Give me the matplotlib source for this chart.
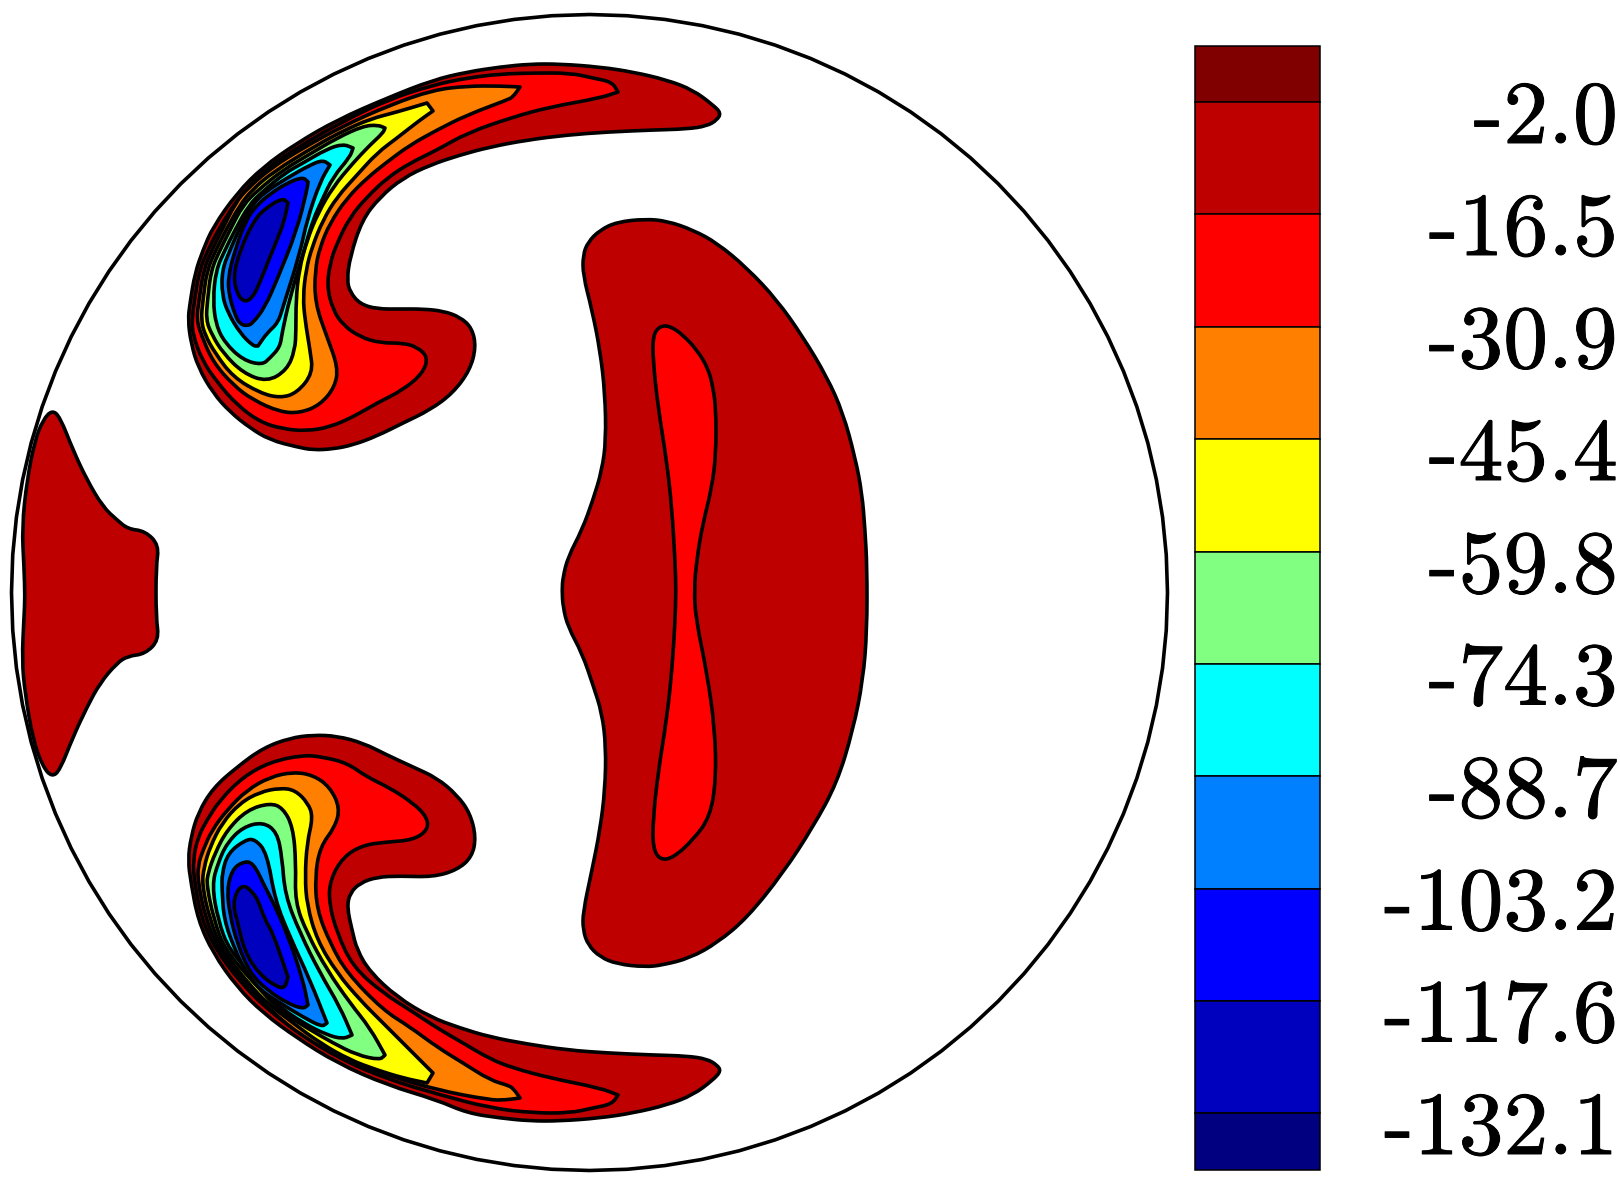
import matplotlib
matplotlib.use("Agg")
import matplotlib.pyplot as plt
import matplotlib.patheffects as pe
from matplotlib.patches import PathPatch, RegularPolygon
from matplotlib.path import Path

level_labels = ["-2.0","-16.5","-30.9","-45.4","-59.8","-74.3","-88.7","-103.2","-117.6","-132.1"]
band_colors = ["#800000","#BF0000","#FF0000","#FF8000","#FFFF00","#80FF80","#00FFFF","#0080FF","#0000FF","#0000BF","#000080"]
band_edges = [45.5,102,214,326.5,439,551.5,663.5,776,888.5,1000.5,1113,1170]
region_colors = ["#BF0000","#FF0000","#FF8000","#FFFF00","#80FF80","#00FFFF","#0080FF","#0000FF","#0000BF"]

top_1 = [(721,113),(717,120),(707,126),(687,129),(653,130),(607,132),(567,135),(527,140),(490,147),(460,155),(430,165),(403,178),(380,197),(362,220),(350,257),(347,280),(350,292),(360,304),(377,309),(400,309),(423,309),(443,311),(460,317),(472,328),(476,347),(470,370),(453,393),(430,410),(403,423),(377,436),(353,445),(333,449),(313,450),(297,447),(270,440),(250,428),(230,412),(213,393),(198,367),(191,343),(188,320),(190,303),(195,273),(203,250),(213,227),(237,193),(263,167),(297,143),(337,120),(387,98),(433,80),(467,72),(500,67),(530,64),(560,64),(600,67),(633,72),(667,80),(693,90),(713,105)]
top_2 = [(618,92),(618,92),(600,98),(550,107),(513,117),(467,133),(437,150),(410,163),(387,178),(367,197),(350,217),(337,243),(330,263),(327,287),(333,310),(343,325),(360,337),(380,343),(403,343),(417,347),(428,357),(423,373),(403,390),(377,403),(353,417),(330,427),(307,431),(283,429),(260,422),(237,405),(217,382),(202,360),(193,335),(192,320),(194.5,300),(199.5,270),(208,250),(218,230),(241,194),(267,168),(300,146),(340,123),(387,100),(433,85),(467,78),(500,74),(533,73),(570,73),(593,78),(612,82)]
top_3 = [(520,87),(520,87),(513,97),(507,100),(467,115),(437,130),(410,145),(387,162),(367,178),(347,198),(330,223),(320,247),(315,270),(315,303),(327,337),(338,367),(335,387),(320,405),(300,413),(280,412),(253,400),(233,385),(213,362),(202,337),(196.5,320),(199,300),(203.5,270),(212,250),(222,230),(236,202),(248,188),(271,168),(303,148),(343,126),(390,105),(433,90),(467,86),(500,86)]
top_4 = [(433,111),(433,111),(420,120),(397,138),(377,153),(357,175),(337,197),(323,220),(312,247),(306,270),(303,297),(305,320),(310,350),(313,373),(297,393),(280,398),(260,393),(233,377),(215,353),(205,335),(201,320),(203,300),(207,270),(216,250),(226,230),(240,205),(252,190),(273,172),(317,145),(343,131),(370,119),(397,112),(427,103),(427,103)]
top_5 = [(385,128),(385,128),(383,133),(370,145),(353,163),(333,187),(318,213),(307,240),(299,270),(296,300),(296,330),(295,350),(287,370),(267,382),(243,373),(223,353),(212,335),(206,320),(207.5,300),(211,270),(220,250),(230,230),(243,205),(258,190),(283,170),(310,154),(337,138),(363,126),(378,125)]
top_6 = [(353,148),(353,148),(350,157),(333,177),(322,200),(313,220),(305,247),(290,297),(282,333),(280,347),(270,358),(262,365),(243,360),(225,343),(216,325),(213,300),(216,270),(225,250),(235,230),(249,205),(262,192),(285,173),(303,163),(327,149),(343,144)]
top_7 = [(330,165),(330,165),(320,182),(307,220),(300,253),(283,307),(278,323),(267,333),(258,346),(258,346),(253,346),(240,333),(228,313),(222,295),(222,270),(230,250),(241,225),(252,205),(265,192),(287,178),(310,165),(323,160)]
top_8 = [(308,182),(308,182),(307,190),(297,230),(277,280),(265,307),(253,323),(247,326),(240,324),(235,315),(229,295),(228,277),(235,250),(246,220),(257,205),(270,194),(287,183),(303,177)]
top_9 = [(288,203),(288,203),(284,222),(277,240),(268,262),(258,287),(252,298),(245,302),(238,296),(233,277),(240,250),(254,220),(267,207),(283,198)]

bot_1 = [(721,1071),(717,1065),(707,1059),(687,1056),(653,1055),(607,1053),(567,1050),(527,1044),(490,1037),(460,1028),(430,1017),(397,997),(370,972),(357,950),(352,930),(347,907),(350,893),(360,883),(377,877),(400,876),(433,877),(457,870),(472,857),(476,837),(470,813),(457,795),(437,778),(413,767),(387,755),(363,743),(337,736),(313,735),(290,738),(263,748),(237,767),(213,788),(198,813),(191,837),(188,860),(191,883),(198,920),(213,953),(237,987),(263,1013),(297,1038),(337,1063),(387,1085),(437,1100),(467,1113),(500,1118),(530,1121),(560,1121),(600,1118),(633,1113),(667,1105),(693,1095),(713,1080)]
bot_2 = [(618,1095),(618,1095),(600,1088),(550,1078),(513,1068),(490,1059),(463,1043),(437,1028),(410,1010),(383,993),(353,967),(337,933),(329,903),(330,880),(343,857),(363,845),(387,842),(413,840),(428,830),(427,817),(413,803),(390,788),(367,777),(347,763),(323,757),(303,755),(270,762),(243,777),(220,800),(207,820),(198,837),(193,860),(194.5,883),(202,920),(216,950),(241,983),(267,1009),(300,1034),(340,1059),(387,1079),(437,1094),(490,1108),(533,1113),(570,1113),(593,1108),(612,1104)]
bot_3 = [(520,1098),(520,1098),(513,1088),(507,1085),(490,1080),(463,1063),(437,1047),(410,1027),(383,1010),(347,973),(330,943),(317,910),(315,877),(320,847),(335,827),(340,808),(330,787),(313,775),(293,772),(270,777),(247,790),(227,810),(212,830),(203,850),(198,865),(198,883),(206,920),(219,950),(245,984),(271,1011),(303,1037),(343,1059),(387,1075),(437,1090),(490,1100),(505,1100)]
bot_4 = [(433,1073),(433,1073),(410,1050),(383,1023),(360,1000),(337,973),(317,940),(307,905),(305,877),(307,843),(313,817),(308,803),(295,790),(280,788),(260,792),(240,803),(222,823),(210,847),(204,867),(202,885),(210,920),(222,950),(249,984),(267,1003),(293,1023),(320,1043),(350,1060),(377,1070),(403,1078),(427,1083),(427,1083)]
bot_5 = [(385,1055),(385,1055),(370,1028),(350,1003),(327,970),(307,933),(295,902),(296,863),(293,827),(283,808),(270,803),(247,810),(227,830),(215,853),(208,873),(206.5,885),(214,920),(225,950),(253,982),(280,1011),(307,1028),(333,1043),(357,1055),(380,1060)]
bot_6 = [(352,1035),(352,1035),(340,1007),(320,973),(300,933),(285,895),(282,857),(277,832),(263,822),(243,827),(227,843),(218,863),(212,885),(218,920),(229,950),(257,980),(277,1005),(303,1023),(327,1035),(343,1039)]
bot_7 = [(327,1023),(327,1023),(310,980),(290,937),(275,900),(267,853),(255,839),(245,840),(228,853),(222,873),(222,890),(224,920),(235,950),(245,970),(260,990),(280,1003),(303,1017),(322,1027)]
bot_8 = [(308,1005),(308,1005),(303,980),(287,933),(272,900),(265,887),(253,862),(242,862),(232,870),(227,890),(230,915),(237,943),(250,973),(267,990),(287,1003),(303,1009)]
bot_9 = [(288,977),(288,977),(285,988),(277,987),(260,975),(245,953),(237,920),(233,905),(237,890),(245,885),(253,893),(258,900),(265,920),(273,933)]

body_1 = [(645,219),(667,221),(693,230),(717,243),(747,268),(777,300),(803,337),(827,377),(843,413),(855,457),(862,493),(865,530),(867,567),(867,630),(863,680),(853,730),(837,783),(813,827),(783,873),(747,918),(717,943),(690,958),(663,965),(645,967),(617,964),(600,957),(588,945),(583,930),(583,912),(592,870),(600,830),(605,790),(606,747),(602,713),(593,685),(582,653),(568,627),(563,607),(562,590),(563,577),(568,557),(582,530),(593,500),(602,470),(606,440),(605,393),(600,350),(592,310),(583,275),(583,255),(588,242),(600,230),(617,222)]
body_2 = [(660,326),(670,326),(683,335),(697,350),(708,368),(713,387),(716,410),(716,453),(712,487),(703,523),(697,557),(694,590),(696,620),(707,673),(715,730),(716,780),(710,817),(693,840),(673,858),(660,860),(653,848),(653,820),(658,773),(667,717),(672,670),(675,623),(676,590),(675,560),(672,510),(667,463),(658,407),(653,360),(653,335)]
blob = [(52,410),(60,417),(73,450),(87,480),(103,507),(117,520),(128,529),(145,531),(159,545),(156,567),(156,617),(159,640),(145,654),(128,656),(117,663),(100,683),(87,707),(73,737),(60,770),(52,777),(43,767),(33,740),(25,693),(22,660),(24,617),(25,597),(24,567),(22,527),(27,480),(35,440),(43,420)]

top_lobe = [top_1,top_2,top_3,top_4,top_5,top_6,top_7,top_8,top_9]
bot_lobe = [bot_1,bot_2,bot_3,bot_4,bot_5,bot_6,bot_7,bot_8,bot_9]

def closed_path(pts):
    pts = list(pts)
    n = len(pts)
    mid = lambda a, b: ((a[0]+b[0])/2, (a[1]+b[1])/2)
    verts = [mid(pts[-1], pts[0])]
    codes = [Path.MOVETO]
    for i in range(n):
        verts += [pts[i], mid(pts[i], pts[(i+1) % n])]
        codes += [Path.CURVE3, Path.CURVE3]
    return Path(verts, codes)

fig = plt.figure(figsize=(16.2, 11.85), dpi=100)
ax = fig.add_axes([0, 0, 1, 1])
ax.set_xlim(0, 1620)
ax.set_ylim(1185, 0)
ax.axis("off")

def shape(pts, color):
    ax.add_patch(PathPatch(closed_path(pts), facecolor=color, edgecolor="black", lw=2.6, joinstyle="round"))

for lobe in (top_lobe, bot_lobe):
    for pts, c in zip(lobe, region_colors):
        shape(pts, c)
shape(body_1, "#BF0000")
shape(body_2, "#FF0000")
shape(blob, "#BF0000")

ax.add_patch(RegularPolygon((589.5, 592.5), 96, radius=578, facecolor="none", edgecolor="black", lw=2.6))

tops = band_edges[:-1]
heights = [b-a for a, b in zip(band_edges[:-1], band_edges[1:])]
ax.barh(tops, [125.5]*len(tops), left=1194.5, height=heights, align="edge", color=band_colors, edgecolor="black", lw=1.1)

for edge, label in zip(band_edges[1:-1], level_labels):
    ax.text(1618, edge+41, label, family="cmr10", fontsize=64.5, ha="right", va="baseline", color="black",
            path_effects=[pe.withStroke(linewidth=0.7, foreground="black")])

fig.savefig("out.png", dpi=100, facecolor="white")
